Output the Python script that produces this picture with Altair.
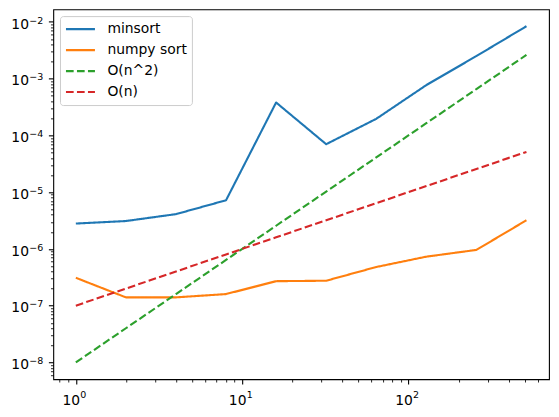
import altair as alt
import pandas as pd

n = [1, 2, 4, 8, 16, 32, 64, 128, 256, 512]
minsort = [2.8e-6, 3.1e-6, 4.1e-6, 7.2e-6, 3.8e-4, 7.0e-5, 1.96e-4, 7.7e-4, 2.5e-3, 8.4e-3]
numpy_sort = [3.1e-7, 1.4e-7, 1.4e-7, 1.6e-7, 2.7e-7, 2.75e-7, 4.8e-7, 7.3e-7, 9.6e-7, 3.2e-6]
o_n2 = [1e-8, 4e-8, 1.6e-7, 6.4e-7, 2.56e-6, 1.024e-5, 4.096e-5, 1.6384e-4, 6.5536e-4, 2.62144e-3]
o_n = [1e-7, 2e-7, 4e-7, 8e-7, 1.6e-6, 3.2e-6, 6.4e-6, 1.28e-5, 2.56e-5, 5.12e-5]

series_names = ["minsort", "numpy sort", "O(n^2)", "O(n)"]
series_values = [minsort, numpy_sort, o_n2, o_n]
colors = ["#1f77b4", "#ff7f0e", "#2ca02c", "#d62728"]
dashes = [[1, 0], [1, 0], [7.7, 3.3], [7.7, 3.3]]

x_domain = [0.7317, 699.6]
y_domain = [5.06e-9, 1.66e-2]

x_major = [1, 10, 100]
x_exponents = ["0", "1", "2"]
y_major = [1e-8, 1e-7, 1e-6, 1e-5, 1e-4, 1e-3, 1e-2]
y_exponents = ["−8", "−7", "−6", "−5", "−4", "−3", "−2"]
label_base = "10"
minor_mult = [2, 3, 4, 5, 6, 7, 8, 9]

font = "DejaVu Sans"


def ticks(major, lo, hi):
    vals = []
    for m in [major[0] / 10] + major:
        for k in [1] + minor_mult:
            v = float(f"{m * k:.6g}")
            if lo <= v <= hi:
                vals.append(v)
    return sorted(set(vals))


def tick_test(major):
    return "indexof([" + ",".join(repr(float(v)) for v in major) + "], datum.value) >= 0"


def axis(major, lo, hi):
    return alt.Axis(
        values=ticks(major, lo, hi),
        labels=False,
        tickSize={"condition": {"test": tick_test(major), "value": 4.9}, "value": 2.8},
        tickWidth={"condition": {"test": tick_test(major), "value": 1.1}, "value": 0.85},
        tickColor="black",
        domain=False,
        grid=False,
        title=None,
    )


rows = []
for name, vals in zip(series_names, series_values):
    for xv, yv in zip(n, vals):
        rows.append({"n": xv, "t": yv, "series": name})
df = pd.DataFrame(rows)

xdf = pd.DataFrame({"n": x_major, "base": [label_base] * len(x_major), "exp": x_exponents})
ydf = pd.DataFrame({"t": y_major, "base": [label_base] * len(y_major), "exp": y_exponents})

x_scale = alt.Scale(type="log", domain=x_domain, nice=False)
y_scale = alt.Scale(type="log", domain=y_domain, nice=False)
x_axis = axis(x_major, *x_domain)
y_axis = axis(y_major, *y_domain)

lines = (
    alt.Chart(df)
    .mark_line(strokeWidth=2.1, strokeJoin="round")
    .encode(
        x=alt.X("n:Q", scale=x_scale, axis=x_axis),
        y=alt.Y("t:Q", scale=y_scale, axis=y_axis),
        color=alt.Color(
            "series:N",
            scale=alt.Scale(domain=series_names, range=colors),
            sort=series_names,
            legend=alt.Legend(
                title=None,
                orient="none",
                legendX=6.7,
                legendY=6.7,
                symbolType="stroke",
                symbolSize=841,
                symbolStrokeWidth=2.1,
                labelFont=font,
                labelFontSize=13.9,
                labelColor="black",
                labelOffset=11,
                clipHeight=17,
                rowPadding=4,
                padding=4.5,
                strokeColor="#cccccc",
                fillColor="rgba(255,255,255,0.8)",
                cornerRadius=3,
            ),
        ),
        strokeDash=alt.StrokeDash(
            "series:N",
            scale=alt.Scale(domain=series_names, range=dashes),
            sort=series_names,
            legend=None,
        ),
    )
)

y_base = (
    alt.Chart(ydf)
    .mark_text(align="right", baseline="alphabetic", dx=-24.3, dy=6.8,
               font=font, fontSize=13.9, color="black")
    .encode(y=alt.Y("t:Q", scale=y_scale, axis=y_axis), x=alt.value(0), text="base:N")
)
y_exp = (
    alt.Chart(ydf)
    .mark_text(align="left", baseline="alphabetic", dx=-24.0, dy=1.6,
               font=font, fontSize=9.5, color="black")
    .encode(y=alt.Y("t:Q", scale=y_scale, axis=y_axis), x=alt.value(0), text="exp:N")
)
x_base = (
    alt.Chart(xdf)
    .mark_text(align="right", baseline="alphabetic", dx=4.3, dy=25.5,
               font=font, fontSize=13.9, color="black")
    .encode(x=alt.X("n:Q", scale=x_scale, axis=x_axis), y=alt.value(370), text="base:N")
)
x_exp = (
    alt.Chart(xdf)
    .mark_text(align="left", baseline="alphabetic", dx=4.5, dy=18.5,
               font=font, fontSize=9.5, color="black")
    .encode(x=alt.X("n:Q", scale=x_scale, axis=x_axis), y=alt.value(370), text="exp:N")
)

chart = (
    alt.layer(lines, y_base, y_exp, x_base, x_exp)
    .properties(
        width=496,
        height=370,
        autosize=alt.AutoSizeParams(type="none"),
        padding={"left": 45.3, "top": 1.3, "right": 2, "bottom": 38},
        background="white",
    )
    .configure_view(stroke="black", strokeWidth=1.1)
)

chart.save("out.html", embed_options={"renderer": "svg", "actions": False})
